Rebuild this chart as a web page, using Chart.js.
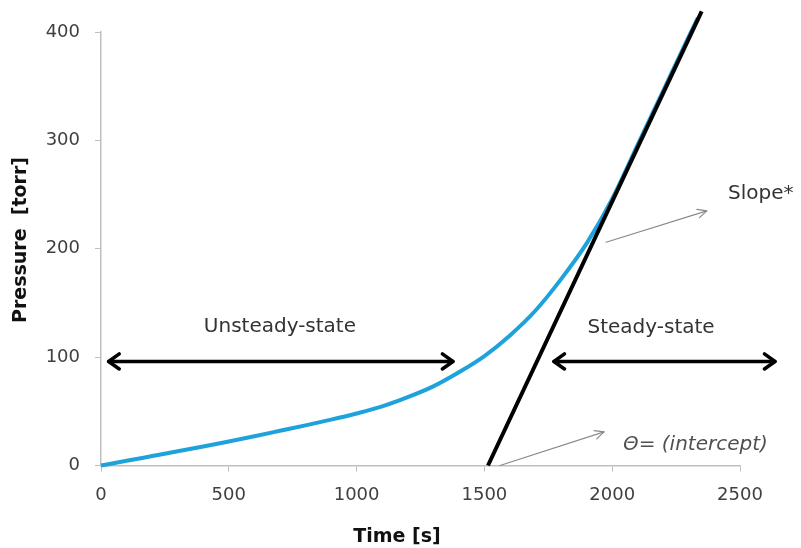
<!DOCTYPE html>
<html>
<head>
<meta charset="utf-8">
<script src="https://cdn.jsdelivr.net/npm/chart.js@4.4.1/dist/chart.umd.min.js"></script>
<style>
  html, body { margin: 0; padding: 0; background: #fff; }
  #wrap { width: 801px; height: 548px; }
</style>
</head>
<body>
<div id="wrap"><canvas id="grafico" width="801" height="548"></canvas></div>
<script>
const timeS = [0, 100, 200, 300, 400, 500, 600, 700, 800, 900, 1000, 1100, 1200, 1300, 1400, 1500, 1600, 1700, 1800, 1900, 2000, 2100, 2200, 2300, 2335];
const pressure = [0, 4.3, 8.7, 13.1, 17.6, 22.2, 27, 32, 37, 42.3, 48, 54.5, 63, 73, 86, 101, 120, 143, 172, 205, 246, 296, 346, 396, 413];

// steady-state asymptote (time lag line)
const lagTime = [1514, 2350];
const lagPressure = [0, 419];

// annotations, in data units
const spanArrows = [
    { from: 30, to: 1377, at: 96 },
    { from: 1772, to: 2637, at: 96 }
];
const pointerArrows = [
    { x0: 1976, y0: 206, x1: 2370, y1: 235 },
    { x0: 1561, y0: 0, x1: 1968, y1: 31 }
];
const notes = [
    { text: 'Unsteady-state', x: 700, y: 128, align: 'center', italic: false },
    { text: 'Steady-state', x: 2152, y: 127, align: 'center', italic: false },
    { text: 'Slope*', x: 2453, y: 251, align: 'left', italic: false },
    { text: 'Θ= (intercept)', x: 2042, y: 19, align: 'left', italic: true }
];

const FONT = '"DejaVu Sans", Verdana, sans-serif';
const axisGrey = '#bfbfbf';
const textGrey = '#404040';

function arrowHead(c, x, y, ang, len, spread) {
    c.beginPath();
    c.moveTo(x - len * Math.cos(ang - spread), y - len * Math.sin(ang - spread));
    c.lineTo(x, y);
    c.lineTo(x - len * Math.cos(ang + spread), y - len * Math.sin(ang + spread));
    c.stroke();
}

const annotations = {
    id: 'annotations',
    afterDatasetsDraw(chart) {
        const c = chart.ctx;
        const xs = chart.scales.x, ys = chart.scales.y;
        c.save();
        c.lineCap = 'round';
        c.lineJoin = 'round';

        // double headed arrows
        c.strokeStyle = '#000';
        c.lineWidth = 3.5;
        spanArrows.forEach(a => {
            const x0 = xs.getPixelForValue(a.from), x1 = xs.getPixelForValue(a.to);
            const y = ys.getPixelForValue(a.at);
            c.beginPath();
            c.moveTo(x0, y);
            c.lineTo(x1, y);
            c.stroke();
            arrowHead(c, x1, y, 0, 13, 0.62);
            arrowHead(c, x0, y, Math.PI, 13, 0.62);
        });

        // thin pointers
        c.strokeStyle = '#8a8a8a';
        c.lineWidth = 1.2;
        pointerArrows.forEach(a => {
            const px0 = xs.getPixelForValue(a.x0), py0 = ys.getPixelForValue(a.y0);
            const px1 = xs.getPixelForValue(a.x1), py1 = ys.getPixelForValue(a.y1);
            c.beginPath();
            c.moveTo(px0, py0);
            c.lineTo(px1, py1);
            c.stroke();
            arrowHead(c, px1, py1, Math.atan2(py1 - py0, px1 - px0), 10, 0.45);
        });

        // labels
        c.textBaseline = 'middle';
        notes.forEach(n => {
            c.font = (n.italic ? 'italic ' : '') + '20px ' + FONT;
            c.fillStyle = n.italic ? '#505050' : '#333';
            c.textAlign = n.align;
            c.fillText(n.text, xs.getPixelForValue(n.x), ys.getPixelForValue(n.y));
        });

        // axis titles
        c.fillStyle = '#111';
        c.font = 'bold 19px ' + FONT;
        c.textAlign = 'center';
        c.fillText('Time [s]', 397, 537);
        c.font = 'bold 19px ' + FONT;
        c.translate(21, 240);
        c.rotate(-Math.PI / 2);
        c.fillText('Pressure  [torr]', 0, 0);
        c.restore();
    }
};

const ctx = document.getElementById('grafico');

const data = {
    datasets: [
        {
            label: 'Steady-state line',
            data: lagTime.map((t, i) => ({ x: t, y: lagPressure[i] })),
            borderColor: '#000',
            borderWidth: 4,
            pointRadius: 0,
            clip: false
        },
        {
            label: 'Pressure',
            data: timeS.map((t, i) => ({ x: t, y: pressure[i] })),
            borderColor: '#1ea2dc',
            borderWidth: 4,
            pointRadius: 0,
            cubicInterpolationMode: 'monotone',
            clip: false
        }
    ]
};

const options = {
    responsive: false,
    animation: false,
    layout: { padding: { top: 32, right: 61, left: 0, bottom: 0 } },
    plugins: {
        legend: { display: false },
        tooltip: { enabled: false }
    },
    scales: {
        x: {
            type: 'linear',
            min: 0,
            max: 2500,
            ticks: {
                stepSize: 500,
                color: textGrey,
                padding: 13,
                font: { family: FONT, size: 18 },
                callback: v => String(v)
            },
            grid: { drawOnChartArea: false, drawTicks: true, tickLength: 6, tickColor: axisGrey },
            border: { color: axisGrey, width: 1.5 },
            afterFit(scale) { scale.height = 548 - 465.5; }
        },
        y: {
            min: 0,
            max: 400,
            ticks: {
                stepSize: 100,
                color: textGrey,
                padding: 15,
                font: { family: FONT, size: 18 },
                callback: v => String(v)
            },
            grid: { drawOnChartArea: false, drawTicks: true, tickLength: 6, tickColor: axisGrey },
            border: { color: axisGrey, width: 1.5 },
            afterFit(scale) { scale.width = 101; }
        }
    }
};

const myChart = new Chart(ctx, {
    type: 'line',
    data: data,
    options: options,
    plugins: [annotations]
});
</script>
</body>
</html>
